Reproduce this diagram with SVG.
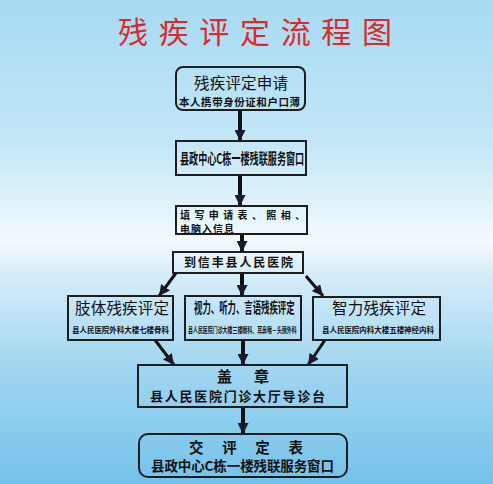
<svg xmlns="http://www.w3.org/2000/svg" width="493" height="484" viewBox="0 0 493 484">
<defs>
<linearGradient id="bg" x1="0" y1="0" x2="0" y2="1">
<stop offset="0" stop-color="#a6daf3"/>
<stop offset="0.3" stop-color="#c4e7f7"/>
<stop offset="0.5" stop-color="#f3fafd"/>
<stop offset="0.56" stop-color="#d8eef9"/>
<stop offset="0.75" stop-color="#a3d7f1"/>
<stop offset="1" stop-color="#74c2ea"/>
</linearGradient>
<marker id="ah" markerUnits="userSpaceOnUse" markerWidth="11" markerHeight="11" refX="11" refY="5.5" orient="auto" viewBox="0 0 11 11">
<path d="M0,0 L11,5.5 L0,11 z" fill="#1a1a2e"/>
</marker>
<style>
.box{fill:none;stroke:#1e1e1e;stroke-width:2}
.t{font-family:"Noto Sans CJK SC","Noto Sans",sans-serif;fill:#111}
.b{font-weight:bold}
.c{stroke:#111;fill:none;marker-end:url(#ah)}
</style>
</defs>
<rect x="0" y="0" width="493" height="484" fill="url(#bg)"/>
<text x="118" y="43" font-size="30" fill="#dd2a28" font-family="'Noto Sans CJK SC',sans-serif" textLength="274" lengthAdjust="spacing">残疾评定流程图</text>

<g id="connectors">
<line class="c" x1="240" y1="110" x2="240" y2="141" stroke-width="4"/>
<line class="c" x1="240" y1="175" x2="240" y2="206" stroke-width="4"/>
<line class="c" x1="242" y1="234" x2="242" y2="252" stroke-width="4"/>
<line class="c" x1="242" y1="273" x2="242" y2="296" stroke-width="4"/>
<line class="c" x1="176" y1="273" x2="159" y2="296" stroke-width="3"/>
<line class="c" x1="306" y1="276" x2="323" y2="296" stroke-width="3"/>
<line class="c" x1="155" y1="340" x2="174" y2="365" stroke-width="3"/>
<line class="c" x1="243" y1="340" x2="243" y2="365" stroke-width="4"/>
<line class="c" x1="325" y1="340" x2="308" y2="365" stroke-width="3"/>
<line class="c" x1="243" y1="407" x2="243" y2="434" stroke-width="4"/>
</g>

<g id="n1">
<rect class="box" x="176" y="67" width="129" height="43" rx="7"/>
<text class="t" x="194" y="88.5" font-size="15.5" textLength="94" lengthAdjust="spacing">残疾评定申请</text>
<text class="t b" x="179" y="105.5" font-size="10.5" textLength="121" lengthAdjust="spacing">本人携带身份证和户口薄</text>
</g>
<g id="n2">
<rect class="box" x="176" y="141" width="130" height="34"/>
<text class="t b" transform="translate(180,164) scale(1,1.65)" x="0" y="0" font-size="9.1">县政中心C栋一楼残联服务窗口</text>
</g>
<g id="n3">
<rect class="box" x="176" y="206" width="131" height="28"/>
<text class="t b" x="180" y="219" font-size="10" textLength="125" lengthAdjust="spacing">填写申请表、照相、</text>
<text class="t b" x="180" y="233" font-size="10" textLength="54" lengthAdjust="spacing">电脑入信息</text>
</g>
<g id="n4">
<rect class="box" x="173" y="252" width="130" height="21"/>
<text class="t b" x="184" y="267" font-size="12" textLength="109" lengthAdjust="spacing">到信丰县人民医院</text>
</g>
<g id="n5">
<rect class="box" x="68" y="296" width="105" height="44"/>
<text class="t" x="75" y="314" font-size="15.5" textLength="94" lengthAdjust="spacing">肢体残疾评定</text>
<text class="t b" x="72" y="333" font-size="7.5" textLength="97" lengthAdjust="spacing">县人民医院外科大楼七楼骨科</text>
</g>
<g id="n6">
<rect class="box" x="185" y="296" width="116" height="44"/>
<text class="t b" transform="translate(194,313) scale(1,1.72)" x="0" y="0" font-size="8.4">视力、听力、言语残疾评定</text>
<text class="t b" transform="translate(188,333) scale(1,1.5)" x="0" y="0" font-size="4.95">县人民医院门诊大楼三楼眼科、耳鼻喉－头颈外科</text>
</g>
<g id="n7">
<rect class="box" x="313" y="297" width="127" height="43"/>
<text class="t" x="332" y="314" font-size="15.5" textLength="94" lengthAdjust="spacing">智力残疾评定</text>
<text class="t b" x="322" y="332.5" font-size="7.5" textLength="112" lengthAdjust="spacing">县人民医院内科大楼五楼神经内科</text>
</g>
<g id="n8">
<rect class="box" x="138" y="365" width="209" height="42"/>
<text class="t b" x="217" y="381.5" font-size="15" textLength="52" lengthAdjust="spacing">盖章</text>
<text class="t b" x="150" y="401" font-size="13" textLength="175" lengthAdjust="spacing">县人民医院门诊大厅导诊台</text>
</g>
<g id="n9">
<rect class="box" x="139" y="434" width="208" height="43" rx="9"/>
<text class="t b" x="189" y="453" font-size="14.5" textLength="114" lengthAdjust="spacing">交评定表</text>
<text class="t b" x="151" y="471" font-size="13.5" textLength="183" lengthAdjust="spacing">县政中心C栋一楼残联服务窗口</text>
</g>
</svg>
